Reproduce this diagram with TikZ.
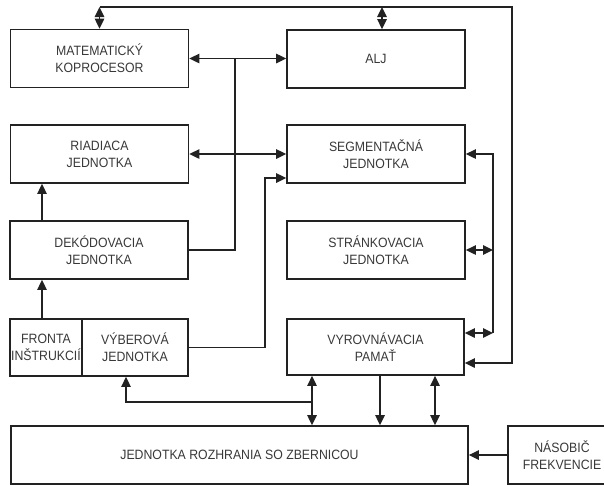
\documentclass[tikz,border=0pt]{standalone}
\usepackage{fontspec}
\setmainfont{Liberation Sans}[FakeStretch=0.91]
\usetikzlibrary{arrows.meta}
\definecolor{linegray}{HTML}{222222}
\definecolor{textgray}{HTML}{383838}

\begin{document}
\begin{tikzpicture}[x=1pt, y=-1pt,
		unit/.style={draw=linegray, line width=1.8pt, minimum width=178pt, minimum height=58pt,
			inner sep=0pt, align=center, text=textgray, font=\fontsize{13.5}{17}\selectfont},
		arr/.style={draw=linegray, line width=1.4pt, -{Triangle[length=10pt,width=9.5pt]}},
		bidir/.style={draw=linegray, line width=1.4pt, {Triangle[length=10pt,width=9.5pt]}-{Triangle[length=10pt,width=9.5pt]}}]
		\useasboundingbox (0,0) rectangle (604,485);

		% Draw the units
		\node[unit] (mat) at (99.5,58.5) {MATEMATICKÝ\\KOPROCESOR};
		\node[unit] (alj) at (376,59) {ALJ};
		\node[unit] (riad) at (99.5,154) {RIADIACA\\JEDNOTKA};
		\node[unit] (seg) at (376,154) {SEGMENTAČNÁ\\JEDNOTKA};
		\node[unit] (dek) at (99,250) {DEKÓDOVACIA\\JEDNOTKA};
		\node[unit] (str) at (376,250) {STRÁNKOVACIA\\JEDNOTKA};
		\node[unit, minimum width=72pt, minimum height=57pt] (fronta) at (46,347.5) {FRONTA\\INŠTRUKCIÍ};
		\node[unit, minimum width=106pt, minimum height=57pt] (vyb) at (135,347.5) {VÝBEROVÁ\\JEDNOTKA};
		\node[unit, minimum width=177pt, minimum height=56pt] (vyr) at (375.5,347) {VYROVNÁVACIA\\PAMAŤ};
		\node[unit, minimum width=457pt] (bus) at (239.5,455) {JEDNOTKA ROZHRANIA SO ZBERNICOU};
		\node[unit, minimum width=108pt] (nas) at (562,455) {NÁSOBIČ\\FREKVENCIE};

		% Draw the junction points
		\coordinate (top) at (0,7);
		\coordinate (outer) at (512,0);
		\coordinate (inner) at (493,0);
		\coordinate (left) at (42,0);
		\coordinate (mid) at (235,0);
		\coordinate (fetch) at (265,0);
		\coordinate (low) at (312,402);

		% Draw the top line
		\draw[arr] (mat.north |- top) -- (outer |- top) |- ([yshift=-16pt]vyr.east);
		\draw[bidir] (mat.north) -- (mat.north |- top);
		\draw[bidir] ([xshift=6pt]alj.north) -- ([xshift=6pt]alj.north |- top);

		% Draw the internal bus
		\draw[bidir] (mat.east) -- (mat.east -| alj.west);
		\draw[bidir] (riad.east) -- (riad.east -| seg.west);
		\draw[draw=linegray, line width=1.4pt] (mat.east -| mid) -- (dek.east -| mid) -- (dek.east);
		\draw[arr] (vyb.east) -| ([yshift=-24pt]seg.west -| fetch) -- ([yshift=-24pt]seg.west);

		% Draw the left arrows
		\draw[arr] (dek.north -| left) -- (riad.south -| left);
		\draw[arr] (fronta.north -| left) -- (dek.south -| left);

		% Draw the right side
		\draw[arr] ([yshift=14pt]vyr.east -| inner) -- (seg.east -| inner) -- (seg.east);
		\draw[bidir] (str.east) -- (str.east -| inner);
		\draw[bidir] ([yshift=14pt]vyr.east) -- ([yshift=14pt]vyr.east -| inner);

		% Draw the bottom links
		\draw[bidir] (vyr.south -| low) -- (bus.north -| low);
		\draw[arr] (low) -| ([xshift=-9pt]vyb.south);
		\draw[arr] ([xshift=4.5pt]vyr.south) -- ([xshift=4.5pt]vyr.south |- bus.north);
		\draw[bidir] ([xshift=59.5pt]vyr.south) -- ([xshift=59.5pt]vyr.south |- bus.north);
		\draw[arr] (nas.west) -- (bus.east);

	\end{tikzpicture}
\end{document}
